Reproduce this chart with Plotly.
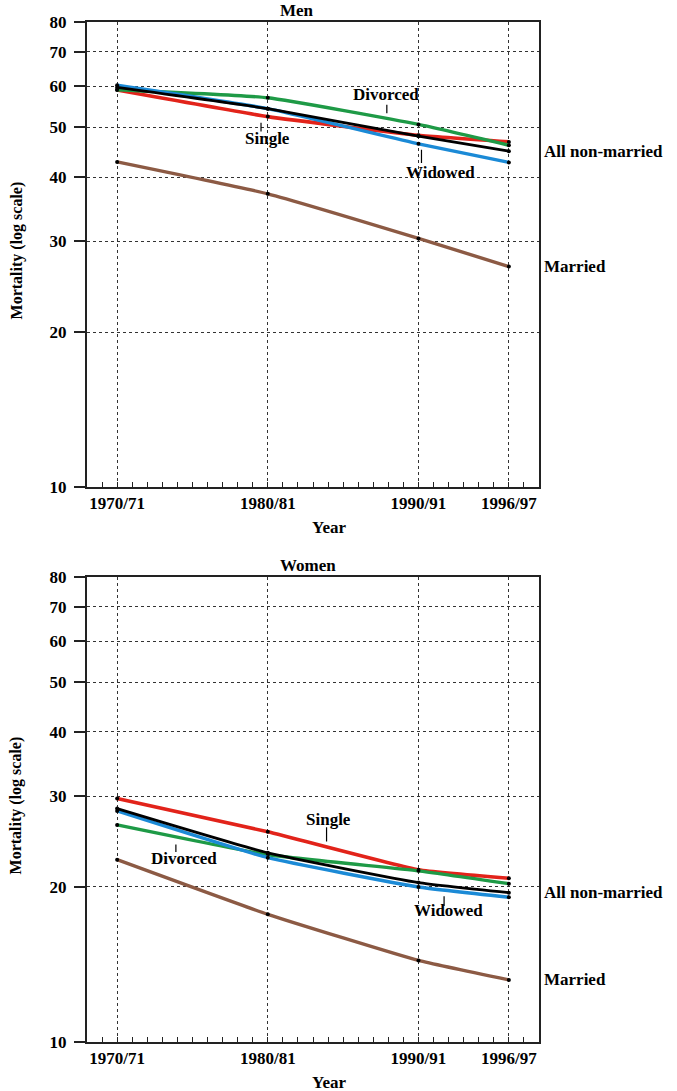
import math
import plotly.graph_objects as go

# ---------------- data ----------------
years = [1970, 1980, 1990, 1996]
year_labels = ["1970/71", "1980/81", "1990/91", "1996/97"]
y_ticks = [10, 20, 30, 40, 50, 60, 70, 80]

men_married = [42.8, 37.1, 30.4, 26.8]
men_single = [59.0, 52.4, 48.2, 46.8]
men_divorced = [59.1, 57.0, 50.6, 46.1]
men_widowed = [60.3, 54.3, 46.4, 42.7]
men_all_nonmarried = [59.7, 54.3, 48.0, 44.9]

women_married = [22.6, 17.7, 14.4, 13.2]
women_single = [29.7, 25.6, 21.6, 20.8]
women_divorced = [26.4, 23.1, 21.5, 20.3]
women_widowed = [28.1, 22.8, 20.0, 19.1]
women_all_nonmarried = [28.4, 23.3, 20.4, 19.5]

panel_titles = ["Men", "Women"]

# ---------------- styles ----------------
FONT = "Liberation Serif"
C_MARRIED = "#8c5a44"
C_SINGLE = "#e2231a"
C_DIVORCED = "#1e9a46"
C_WIDOWED = "#1b8ad6"
C_ALL = "#000000"

fig = go.Figure()

panels = [
    dict(x="x", y="y", married=men_married, single=men_single, divorced=men_divorced,
         widowed=men_widowed, alln=men_all_nonmarried),
    dict(x="x2", y="y2", married=women_married, single=women_single, divorced=women_divorced,
         widowed=women_widowed, alln=women_all_nonmarried),
]

for p in panels:
    for key, col, w in [("married", C_MARRIED, 3.4), ("single", C_SINGLE, 3.6),
                        ("divorced", C_DIVORCED, 3.4), ("widowed", C_WIDOWED, 3.4),
                        ("alln", C_ALL, 2.8)]:
        fig.add_trace(go.Scatter(
            x=years, y=p[key], xaxis=p["x"], yaxis=p["y"],
            mode="lines+markers",
            line=dict(color=col, width=w, shape="spline", smoothing=0.4),
            marker=dict(color="black", size=4, symbol="circle"),
            showlegend=False, hoverinfo="x+y"))

axis_common_x = dict(
    range=[1968, 1998], tickvals=years, ticktext=year_labels,
    showgrid=True, gridcolor="#333", griddash="dot", gridwidth=1,
    showline=True, linecolor="#222", linewidth=2, mirror=True,
    ticks="inside", ticklen=5, tickcolor="#222", tickwidth=1,
    minor=dict(dtick=1, tick0=1968, ticks="inside", ticklen=5, tickcolor="#222", showgrid=False),
    tickfont=dict(family=FONT, size=17, color="black", weight="bold"),
    ticklabelstandoff=0, zeroline=False, automargin=False,
)
axis_common_y = dict(
    type="log", range=[1, math.log10(80)], tickvals=y_ticks,
    ticktext=[str(t) for t in y_ticks],
    showgrid=True, gridcolor="#333", griddash="dot", gridwidth=1,
    showline=True, linecolor="#222", linewidth=2, mirror=True,
    ticks="outside", ticklen=11, tickcolor="#222", tickwidth=2,
    tickfont=dict(family=FONT, size=17, color="black", weight="bold"),
    ticklabelstandoff=4, zeroline=False, automargin=False,
)

top_dom = [0.5441, 1.0]
bot_dom = [0.0, 0.4559]
fig.update_layout(
    xaxis=dict(axis_common_x, anchor="y"),
    yaxis=dict(axis_common_y, anchor="x", domain=top_dom),
    xaxis2=dict(axis_common_x, anchor="y2"),
    yaxis2=dict(axis_common_y, anchor="x2", domain=bot_dom),
)

ann = []
bold = dict(family=FONT, size=17, color="black", weight="bold")

for i, p in enumerate(panels):
    xa, ya = p["x"], p["y"]
    xd, yd = xa + " domain", ya + " domain"
    # panel titles
    ann.append(dict(text=panel_titles[i], xref=xd, yref=yd, x=0.4226, y=1,
                    xanchor="left", yanchor="bottom", showarrow=False, font=bold))
    # x-axis title
    ann.append(dict(text="Year", xref=xd, yref=yd, x=0.535, y=0, yshift=-40,
                    xanchor="center", yanchor="middle", showarrow=False, font=bold))
    # y-axis title
    ann.append(dict(text="Mortality (log scale)", xref=xd, yref=yd, x=-0.155, y=0.5,
                    yshift=4, textangle=-90, xanchor="center", yanchor="middle",
                    showarrow=False, font=dict(family=FONT, size=16, color="black", weight="bold")))
    # right-hand labels at last values
    ann.append(dict(text="All non-married", xref=xd, yref=ya, x=1, xshift=3,
                    y=math.log10(p["alln"][-1]), xanchor="left", yanchor="middle",
                    showarrow=False, font=bold))
    ann.append(dict(text="Married", xref=xd, yref=ya, x=1, xshift=3,
                    y=math.log10(p["married"][-1]), xanchor="left", yanchor="middle",
                    showarrow=False, font=bold))

# inline labels: (panel, text, text_x, text_value, leader_x, leader_v0, leader_v1)
inline = [
    (0, "Divorced", 1987.84, 57.9, 1987.9, 55.6, 53.2),
    (0, "Single", 1980.0, 47.6, 1979.55, 51.3, 49.0),
    (0, "Widowed", 1991.49, 40.9, 1990.2, 45.5, 42.6),
    (1, "Single", 1984.06, 27.0, 1983.9, 26.3, 24.5),
    (1, "Divorced", 1974.44, 22.67, 1973.9, 24.36, 23.4),
    (1, "Widowed", 1992.0, 17.98, 1991.7, 19.31, 18.38),
]
for pi, txt, tx, tv, lx, lv0, lv1 in inline:
    xa, ya = panels[pi]["x"], panels[pi]["y"]
    ann.append(dict(text=txt, xref=xa, yref=ya, x=tx, y=math.log10(tv),
                    xanchor="center", yanchor="middle", showarrow=False, font=bold))
    # leader line drawn as an arrow-only annotation
    ann.append(dict(text="", xref=xa, yref=ya, x=lx, y=math.log10(lv1),
                    axref=xa, ayref=ya, ax=lx, ay=math.log10(lv0),
                    showarrow=True, arrowhead=0, arrowwidth=1.2, arrowcolor="black",
                    standoff=0, startstandoff=0))

fig.update_layout(
    annotations=ann,
    width=677, height=1091,
    margin=dict(l=87, r=138, t=22, b=49, autoexpand=False),
    paper_bgcolor="white", plot_bgcolor="white",
    font=dict(family=FONT, size=17, color="black"),
    showlegend=False,
)

# remove the default 8px page margin so the figure sits at the window's corner
fig.write_html("out.html",
               config={"displayModeBar": False},
               post_script="document.body.style.margin='0';document.body.style.overflow='hidden';")
